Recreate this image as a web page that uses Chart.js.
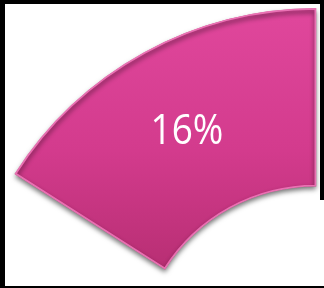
<!DOCTYPE html>
<html>
<head>
<meta charset="utf-8">
<script src="https://cdn.jsdelivr.net/npm/chart.js@4"></script>
<style>
  html, body { margin: 0; padding: 0; width: 324px; height: 288px; overflow: hidden; background: #000; }
  #frame { position: absolute; left: 5px; top: 4px; right: 0; bottom: 2px; background: #fff; overflow: hidden; }
  #rstrip { position: absolute; left: 320px; top: 0; width: 4px; height: 200px; background: #000; }
  #wrap { position: absolute; left: -46px; top: 4px; width: 714px; height: 714px; }
</style>
</head>
<body>
<div id="frame"><div id="wrap"><canvas id="c"></canvas></div></div>
<div id="rstrip"></div>
<script>
const categories = ['Share', 'Rest'];
const values = [16, 84];
const labels = ['16%', ''];

const total = values.reduce((a, b) => a + b, 0);

function pinkFill(ctx) {
  const chart = ctx.chart;
  if (ctx.dataIndex !== 0) return 'rgba(0,0,0,0)';
  const a = chart.chartArea;
  if (!a) return '#cf3a8a';
  const g = chart.ctx.createLinearGradient(0, a.top, 0, a.top + (a.bottom - a.top) * 0.4);
  g.addColorStop(0, '#e0479c');
  g.addColorStop(0.5, '#d33b8d');
  g.addColorStop(1, '#b22c6e');
  return g;
}

const labelPlugin = {
  id: 'segLabel',
  beforeDatasetsDraw(chart) {
    const c = chart.ctx;
    c.save();
    c.shadowColor = 'rgba(0,0,0,0.55)';
    c.shadowBlur = 5;
    c.shadowOffsetX = 0;
    c.shadowOffsetY = 3;
  },
  afterDatasetsDraw(chart) {
    const c = chart.ctx;
    c.restore();
    const meta = chart.getDatasetMeta(0);
    meta.data.forEach((arc, i) => {
      if (!labels[i]) return;
      const p = arc.tooltipPosition();
      c.save();
      c.translate(p.x, p.y);
      c.scale(0.88, 1);
      c.fillStyle = '#ffffff';
      c.font = '42px "Open Sans", sans-serif';
      c.textAlign = 'center';
      c.textBaseline = 'middle';
      c.fillText(labels[i], 0, 2);
      c.restore();
    });
  }
};

new Chart(document.getElementById('c'), {
  type: 'doughnut',
  data: {
    labels: categories,
    datasets: [{
      data: values,
      backgroundColor: pinkFill,
      borderColor: (ctx) => ctx.dataIndex === 0 ? 'rgba(240,120,185,0.9)' : 'rgba(0,0,0,0)',
      borderWidth: (ctx) => ctx.dataIndex === 0 ? 1.5 : 0,
      borderAlign: 'inner',
      hoverOffset: 0,
      offset: 0
    }]
  },
  options: {
    responsive: true,
    maintainAspectRatio: false,
    animation: false,
    events: [],
    cutout: '50%',
    rotation: -360 * values[0] / total,
    layout: { padding: 0 },
    plugins: { legend: { display: false }, tooltip: { enabled: false } }
  },
  plugins: [labelPlugin]
});
</script>
</body>
</html>
